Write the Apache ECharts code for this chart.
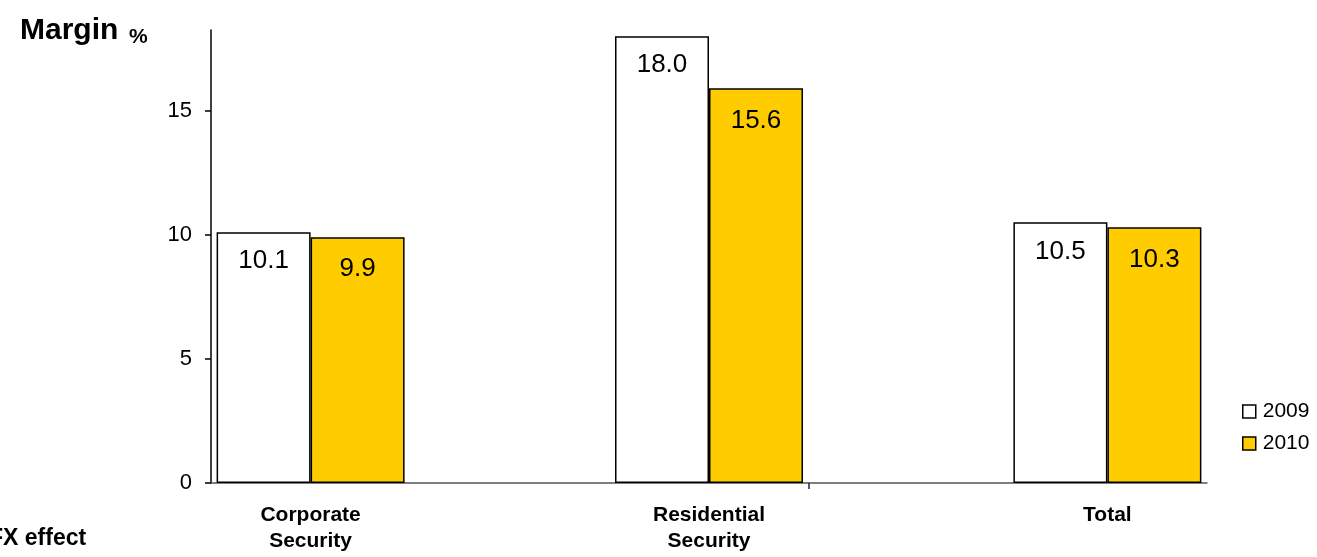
<!DOCTYPE html>
<html>
<head>
<meta charset="utf-8">
<script src="https://cdn.jsdelivr.net/npm/echarts@6/dist/echarts.min.js"></script>
<style>html,body{margin:0;padding:0;background:#fff}#c{width:1317px;height:557px}</style>
</head>
<body>
<div id="c"></div>
<script>
const categories = ['Corporate\nSecurity', 'Residential\nSecurity', 'Total'];
const seriesNames = ['2009', '2010'];
const values2009 = [10.1, 18.0, 10.5];
const values2010 = [9.9, 15.9, 10.3];
const labels2009 = ['10.1', '18.0', '10.5'];
const labels2010 = ['9.9', '15.6', '10.3'];
const yTicks = [0, 5, 10, 15];

const FONT = 'Liberation Sans, Arial, sans-serif';
const chart = echarts.init(document.getElementById('c'));

function mk(vals, labels) {
  return vals.map((v, i) => ({ value: [i + 0.5, v], labelText: labels[i] }));
}

chart.setOption({
  animation: false,
  backgroundColor: '#fff',
  textStyle: { fontFamily: FONT },
  title: {
    text: 'Margin',
    left: 15, top: 11,
    textStyle: { fontFamily: FONT, fontWeight: 'bold', fontSize: 30, color: '#000' }
  },
  graphic: [
    {
      type: 'text', left: 129, top: 27,
      style: { text: '%', font: 'bold 21px ' + FONT, fill: '#000' }
    },
    {
      type: 'text', left: -11, top: 527,
      style: { text: 'FX effect', font: 'bold 23px ' + FONT, fill: '#000' }
    }
  ],
  legend: {
    orient: 'vertical', left: 1237, top: 396, itemGap: 11,
    icon: 'rect', itemWidth: 13, itemHeight: 13,
    itemStyle: { borderColor: '#000', borderWidth: 1.5 },
    textStyle: { fontFamily: FONT, fontSize: 21, color: '#000', padding: [0, 0, 0, 2] },
    data: seriesNames
  },
  grid: { left: 211, right: 110, top: 30, bottom: 74, containLabel: false },
  xAxis: {
    type: 'value', min: 0.25, max: 2.75,
    splitLine: { show: false },
    axisLine: { show: true, lineStyle: { color: '#555', width: 1.5 } },
    axisTick: { show: true, customValues: [1.75], length: 6, lineStyle: { color: '#222', width: 1.5 } },
    axisLabel: {
      customValues: [0.5, 1.5, 2.5],
      formatter: v => categories[Math.round(v - 0.5)] || '',
      fontFamily: FONT, fontWeight: 'bold', fontSize: 21, color: '#000',
      lineHeight: 26, margin: 19
    }
  },
  yAxis: {
    type: 'value', min: 0, max: 18.25, interval: 5,
    splitLine: { show: false },
    axisLine: { show: true, lineStyle: { color: '#000', width: 1.5 } },
    axisTick: { show: true, customValues: yTicks, length: 6, lineStyle: { color: '#000', width: 1.5 } },
    axisLabel: { customValues: yTicks, fontFamily: FONT, fontSize: 22, color: '#000', margin: 19 }
  },
  series: [
    {
      name: seriesNames[0], type: 'bar', barWidth: 94, barGap: '0%',
      itemStyle: { color: '#ffffff', borderColor: '#000', borderWidth: 1.5 },
      label: {
        show: true, position: 'insideTop', distance: 16,
        fontFamily: FONT, fontSize: 26, color: '#000',
        formatter: p => p.data.labelText
      },
      data: mk(values2009, labels2009)
    },
    {
      name: seriesNames[1], type: 'bar', barWidth: 94, barGap: '0%',
      itemStyle: { color: '#ffcc00', borderColor: '#000', borderWidth: 1.5 },
      label: {
        show: true, position: 'insideTop', distance: 19,
        fontFamily: FONT, fontSize: 26, color: '#000',
        formatter: p => p.data.labelText
      },
      data: mk(values2010, labels2010)
    }
  ]
});
</script>
</body>
</html>
